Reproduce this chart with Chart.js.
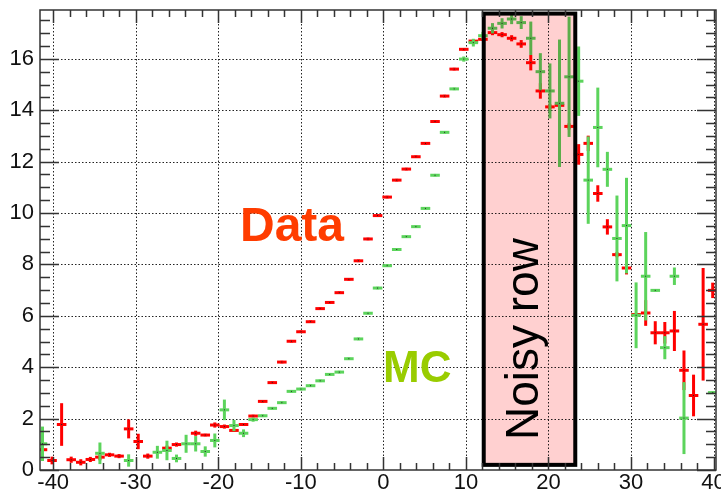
<!DOCTYPE html>
<html>
<head>
<meta charset="utf-8">
<script src="https://cdn.jsdelivr.net/npm/chart.js@4.4.1/dist/chart.umd.min.js"></script>
<style>
  html, body { margin: 0; padding: 0; background: #fff; }
  #wrap { width: 721px; height: 493px; }
</style>
</head>
<body>
<div id="wrap"><canvas id="noisyChart"></canvas></div>
<script>
// bin centres (x) and bin width
const binCenters = [
  -41.30, -40.14, -38.98, -37.82, -36.66, -35.50, -34.34, -33.18, -32.02, -30.86,
  -29.70, -28.54, -27.38, -26.22, -25.06, -23.90, -22.74, -21.58, -20.42, -19.26,
  -18.10, -16.94, -15.78, -14.62, -13.46, -12.30, -11.14, -9.98, -8.82, -7.66,
  -6.50, -5.34, -4.18, -3.02, -1.86, -0.70, 0.46, 1.62, 2.78, 3.94,
  5.10, 6.26, 7.42, 8.58, 9.74, 10.90, 12.06, 13.22, 14.38, 15.54,
  16.70, 17.86, 19.02, 20.18, 21.34, 22.50, 23.66, 24.82, 25.98, 27.14,
  28.30, 29.46, 30.62, 31.78, 32.94, 34.10, 35.26, 36.42, 37.58, 38.74,
  39.90
];
const binWidth = 1.16;

// Data (red)
const dataValues = [
  0.79, 0.37, 1.77, 0.40, 0.30, 0.41, 0.50, 0.59, 0.54, 1.60,
  1.11, 0.54, null, 0.85, 0.99, null, 1.43, 1.36, 1.75, 1.69,
  1.54, 1.77, 2.10, 2.67, 3.40, 4.20, 5.01, 5.38, 5.77, 6.28,
  6.52, 6.90, 7.42, 8.14, 8.99, 9.90, 10.62, 11.28, 11.71, 12.19,
  12.71, 13.56, 14.55, 15.60, 16.37, 16.69, 16.76, 17.02, 16.94, 16.80,
  16.58, 15.85, 14.75, 14.13, 14.19, 13.37, 12.28, 12.71, 10.76, 9.46,
  8.38, 7.86, 6.05, 6.11, 5.34, 5.34, 5.41, 3.88, 2.90, 5.67,
  6.99
];
const dataErrors = [
  0.08, 0.15, 0.83, 0.12, 0.12, 0.10, 0.12, 0.08, 0.08, 0.37,
  0.30, 0.10, 0, 0.10, 0.08, 0, 0.10, 0.05, 0.10, 0.08,
  0.05, 0.05, 0.05, 0.05, 0.05, 0.05, 0.05, 0.05, 0.05, 0.05,
  0.05, 0.05, 0.05, 0.05, 0.05, 0.05, 0.05, 0.05, 0.05, 0.05,
  0.05, 0.05, 0.05, 0.05, 0.05, 0.05, 0.05, 0.10, 0.10, 0.12,
  0.15, 0.30, 0.30, 0.10, 0.12, 0.12, 0.40, 0.30, 0.32, 0.30,
  0.10, 0.25, 0.05, 0.50, 0.45, 0.42, 0.78, 0.77, 0.81, 2.19,
  0.30
];

// MC (green)
const mcValues = [
  1.02, null, null, null, null, null, 0.65, null, null, 0.37,
  null, null, 0.69, 0.76, 0.45, 1.02, 1.02, 0.72, 1.15, 2.34,
  1.73, 1.43, 1.96, 2.11, 2.40, 2.62, 3.06, 3.15, 3.28, 3.47,
  3.72, 3.81, 4.33, 5.10, 6.10, 7.08, 7.95, 8.58, 9.08, 9.47,
  10.18, 11.47, 13.14, 14.83, 15.99, 16.63, 16.90, 17.19, 17.38, 17.55,
  17.41, 16.80, 15.50, 14.75, 14.27, 15.30, 15.13, 11.28, 13.33, 11.70,
  9.01, 9.51, 6.02, 7.54, 6.99, 4.76, 7.54, 2.02, null, null,
  3.01
];
const mcErrors = [
  0.67, 0, 0, 0, 0, 0, 0.42, 0, 0, 0.24,
  0, 0, 0.25, 0.38, 0.15, 0.35, 0.30, 0.20, 0.27, 0.40,
  0.22, 0.15, 0.08, 0.05, 0.05, 0.05, 0.05, 0.05, 0.05, 0.05,
  0.05, 0.05, 0.05, 0.05, 0.05, 0.05, 0.05, 0.05, 0.05, 0.05,
  0.05, 0.05, 0.05, 0.05, 0.10, 0.15, 0.15, 0.20, 0.20, 0.20,
  0.25, 0.65, 0.72, 1.07, 2.48, 2.34, 1.35, 1.70, 1.55, 0.68,
  1.67, 1.86, 1.28, 1.72, 0.05, 0.45, 0.34, 1.40, 0, 0,
  0.05
];

// axis ticks
const xTickValues = [-40, -30, -20, -10, 0, 10, 20, 30, 40];
const yTickValues = [0, 2, 4, 6, 8, 10, 12, 14, 16];

// noisy row region (x range, y range)
const noisyX = [12.16, 23.25];
const noisyY = [0.2, 17.76];

const FONT = '"Liberation Sans", Arial, Helvetica, sans-serif';

const toPoints = (vals) => binCenters.map((x, i) => ({ x: x, y: vals[i] }));

const rootStyle = {
  id: 'rootStyle',
  beforeDraw(chart) {
    const c = chart.ctx;
    c.save();
    c.fillStyle = '#fff';
    c.fillRect(0, 0, chart.width, chart.height);
    c.restore();
  },
  beforeDatasetsDraw(chart) {
    const c = chart.ctx, a = chart.chartArea;
    const xs = chart.scales.x, ys = chart.scales.y;
    c.save();
    c.strokeStyle = '#222';
    c.lineWidth = 1;
    c.setLineDash([1.5, 2]);
    xTickValues.forEach(v => {
      const px = Math.round(xs.getPixelForValue(v)) + 0.5;
      c.beginPath(); c.moveTo(px, a.top); c.lineTo(px, a.bottom); c.stroke();
    });
    yTickValues.forEach(v => {
      if (v === 0) return;
      const py = Math.round(ys.getPixelForValue(v)) + 0.5;
      c.beginPath(); c.moveTo(a.left, py); c.lineTo(a.right, py); c.stroke();
    });
    c.restore();
  },
  afterDatasetsDraw(chart) {
    const c = chart.ctx, a = chart.chartArea;
    const xs = chart.scales.x, ys = chart.scales.y;

    // error bars for both series
    const drawSeries = (vals, errs, color) => {
      c.strokeStyle = color;
      c.lineWidth = 3;
      c.lineCap = 'butt';
      vals.forEach((v, i) => {
        if (v === null) return;
        const x = binCenters[i];
        const px = xs.getPixelForValue(x);
        const py = ys.getPixelForValue(v);
        const x1 = xs.getPixelForValue(x - binWidth / 2);
        const x2 = xs.getPixelForValue(x + binWidth / 2);
        c.beginPath(); c.moveTo(x1, py); c.lineTo(x2, py); c.stroke();
        if (errs[i] > 0) {
          const y1 = ys.getPixelForValue(v - errs[i]);
          const y2 = ys.getPixelForValue(v + errs[i]);
          c.beginPath(); c.moveTo(px, y1); c.lineTo(px, y2); c.stroke();
        }
        c.fillStyle = '#222';
        c.fillRect(px - 0.5, py - 0.5, 1, 1);
      });
    };
    c.save();
    c.beginPath();
    c.rect(a.left, a.top, a.right - a.left, a.bottom - a.top);
    c.clip();
    drawSeries(dataValues, dataErrors, '#ff0000');
    drawSeries(mcValues, mcErrors, '#5cd45c');

    // noisy row box: pink multiplied over, then black frame
    const bx1 = xs.getPixelForValue(noisyX[0]), bx2 = xs.getPixelForValue(noisyX[1]);
    const by1 = ys.getPixelForValue(noisyY[1]), by2 = ys.getPixelForValue(noisyY[0]);
    c.globalCompositeOperation = 'multiply';
    c.fillStyle = 'rgb(255,208,208)';
    c.fillRect(bx1, by1, bx2 - bx1, by2 - by1);
    c.globalCompositeOperation = 'source-over';
    c.strokeStyle = '#000';
    c.lineWidth = 4;
    c.strokeRect(bx1, by1, bx2 - bx1, by2 - by1);
    c.restore();

    // frame and ticks on all four sides
    c.save();
    c.strokeStyle = '#333';
    c.lineWidth = 1.5;
    c.strokeRect(a.left, a.top, a.right - a.left, a.bottom - a.top);
    c.beginPath();
    for (let v = -40; v <= 40; v += 2) {
      const px = Math.round(xs.getPixelForValue(v)) + 0.5;
      const len = (v % 10 === 0) ? 13 : 7;
      c.moveTo(px, a.bottom); c.lineTo(px, a.bottom - len);
      c.moveTo(px, a.top); c.lineTo(px, a.top + len);
    }
    for (let v = 0; v <= 17.5; v += 0.5) {
      const py = Math.round(ys.getPixelForValue(v)) + 0.5;
      const len = (v % 2 === 0) ? 19 : 10;
      c.moveTo(a.left, py); c.lineTo(a.left + len, py);
      c.moveTo(a.right, py); c.lineTo(a.right - len, py);
    }
    c.stroke();
    c.restore();

    // labels
    c.save();
    c.textAlign = 'left';
    c.textBaseline = 'alphabetic';
    c.font = 'bold 48px ' + FONT;
    c.fillStyle = '#ff3c00';
    c.fillText('Data', 240, 241);
    c.font = 'bold 44px ' + FONT;
    c.fillStyle = '#99cc00';
    c.fillText('MC', 383, 382);
    c.font = '46px ' + FONT;
    c.fillStyle = '#000';
    c.translate(538, 440);
    c.rotate(-Math.PI / 2);
    c.fillText('Noisy row', 0, 0);
    c.restore();
  }
};

const ctx = document.getElementById('noisyChart').getContext('2d');

const config = {
  type: 'scatter',
  data: {
    datasets: [
      { label: 'Data', data: toPoints(dataValues), pointRadius: 0, showLine: false },
      { label: 'MC', data: toPoints(mcValues), pointRadius: 0, showLine: false }
    ]
  },
  options: {
    responsive: true,
    maintainAspectRatio: false,
    animation: false,
    devicePixelRatio: 1,
    layout: { padding: { top: 10, right: 5, left: 0, bottom: 0 } },
    plugins: { legend: { display: false }, tooltip: { enabled: false } },
    scales: {
      x: {
        type: 'linear',
        min: -41.6,
        max: 40.3,
        grid: { display: false, drawTicks: false },
        border: { display: false },
        ticks: {
          font: { family: FONT, size: 22 },
          color: '#111',
          padding: 0,
          maxRotation: 0,
          autoSkip: false
        },
        afterBuildTicks: s => { s.ticks = xTickValues.map(v => ({ value: v })); },
        afterFit: s => { s.height = 23; s.paddingLeft = 0; s.paddingRight = 0; }
      },
      y: {
        type: 'linear',
        min: 0,
        max: 17.9,
        grid: { display: false, drawTicks: false },
        border: { display: false },
        ticks: {
          font: { family: FONT, size: 22 },
          color: '#111',
          padding: 6,
          autoSkip: false
        },
        afterBuildTicks: s => { s.ticks = yTickValues.map(v => ({ value: v })); },
        afterFit: s => { s.width = 40; s.paddingTop = 0; s.paddingBottom = 0; }
      }
    }
  },
  plugins: [rootStyle]
};

const noisyChart = new Chart(ctx, config);
</script>
</body>
</html>
